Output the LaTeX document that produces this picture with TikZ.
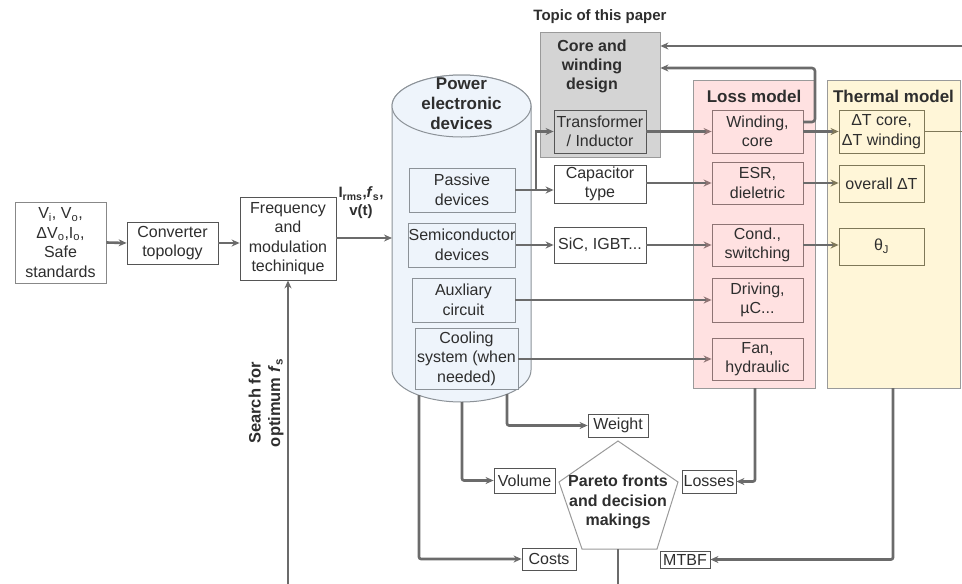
\documentclass[tikz,border=0pt]{standalone}
\usepackage{fontspec}
\setmainfont{Liberation Sans}
\usetikzlibrary{arrows.meta}
\definecolor{ln}{HTML}{6B6B6B}
\definecolor{txt}{HTML}{2E2E2E}
\definecolor{bd}{HTML}{555555}
\definecolor{cylf}{HTML}{EEF4FB}
\definecolor{cyld}{HTML}{8C9298}
\definecolor{grayf}{HTML}{D4D4D4}
\definecolor{grayd}{HTML}{9A9A9A}
\definecolor{lossf}{HTML}{FFE1E1}
\definecolor{lossd}{HTML}{8E7474}
\definecolor{thf}{HTML}{FFF6D8}
\definecolor{thd}{HTML}{7F7858}
\begin{document}
\begin{tikzpicture}[x=1pt,y=-1pt,
  font=\fontsize{16}{19.5}\selectfont, text=txt,
  box/.style={draw=bd, line width=0.8pt, inner sep=0pt, align=center, fill=white},
  cbox/.style={box, draw=cyld, fill=cylf},
  lbox/.style={box, draw=lossd, fill=lossf},
  tbox/.style={box, draw=thd, fill=thf},
  title/.style={font=\bfseries\fontsize{17}{20}\selectfont, align=center, inner sep=0pt},
  arr/.style={draw=ln, line width=2.6pt, -{Stealth[length=8pt,width=7pt]}},
  arrl/.style={draw=ln, line width=2.6pt, -{Stealth[length=8pt,width=7pt,color=lossd]}},
  arrt/.style={draw=ln, line width=2.6pt, -{Stealth[length=8pt,width=7pt,color=thd]}},
  wire/.style={draw=ln, line width=2.6pt}]
\useasboundingbox (0,0) rectangle (962,584);

% ---------- left chain ----------
\node[box, draw=bd!70, minimum width=91pt, minimum height=81pt] (inp) at (60.5,242.5)
  {V\textsubscript{i}, V\textsubscript{o},\\ΔV\textsubscript{o},I\textsubscript{o},\\Safe\\standards};
\node[box, minimum width=91pt, minimum height=42pt] (topo) at (172.5,243) {Converter\\topology};
\node[box, minimum width=96pt, minimum height=83pt] (freq) at (288,238.5)
  {Frequency\\and\\modulation\\techinique};
\node[font=\bfseries\fontsize{15}{18}\selectfont, align=center, inner sep=0pt] (ilab) at (361,203)
  {I\textsubscript{rms},\textit{f}\textsubscript{s},\\v(t)};
\node[font=\bfseries\fontsize{16.5}{19.5}\selectfont, align=center, inner sep=0pt, rotate=90] (search) at (266,403)
  {Search for\\optimum \textit{f}\textsubscript{s}};

% ---------- cylinder ----------
\filldraw[fill=cylf, draw=cyld, line width=1pt]
  (392,106) -- (392,370) .. controls (392,387.7) and (423.1,402) .. (461.5,402)
  .. controls (499.9,402) and (531,387.7) .. (531,370) -- (531,106)
  .. controls (531,88.9) and (499.9,75) .. (461.5,75)
  .. controls (423.1,75) and (392,88.9) .. (392,106) -- cycle;
\filldraw[fill=cylf, draw=cyld, line width=1pt] (461.5,106) ellipse [x radius=69.5pt, y radius=31pt];
\node[title] (ped) at (461.5,104) {Power\\electronic\\devices};
\coordinate (cylL) at (392,238);

\node[cbox, minimum width=106pt, minimum height=44pt] (pass) at (462,190) {Passive\\devices};
\node[cbox, minimum width=106pt, minimum height=44pt] (semi) at (462,245) {Semiconductor\\devices};
\node[cbox, minimum width=103pt, minimum height=44pt] (aux) at (463.5,300) {Auxliary\\circuit};
\node[cbox, minimum width=103pt, minimum height=61pt] (cool) at (466.5,358.5) {Cooling\\system (when\\needed)};

% ---------- topic box ----------
\node[font=\bfseries\fontsize{15}{18}\selectfont, inner sep=0pt] (topic) at (600,17) {Topic of this paper};
\node[box, draw=grayd, fill=grayf, minimum width=120pt, minimum height=125pt] (core) at (600,94.5) {};
\node[font=\bfseries\fontsize{16}{19}\selectfont, align=center, inner sep=0pt] (coret) at (592,66) {Core and\\winding\\design};
\node[box, draw=bd, fill=grayf, minimum width=92pt, minimum height=43pt] (trafo) at (600,131.5) {Transformer\\/ Inductor};
\node[box, minimum width=92pt, minimum height=38pt] (cap) at (600,184) {Capacitor\\type};
\node[box, minimum width=92pt, minimum height=36pt] (sic) at (600,245) {SiC, IGBT...};

% ---------- loss model ----------
\node[box, draw=grayd, fill=lossf, minimum width=122pt, minimum height=308pt] (loss) at (754,234) {};
\node[title] (losst) at (754,96) {Loss model};
\node[lbox, minimum width=91pt, minimum height=43pt] (wind) at (757.5,131.5) {Winding,\\core};
\node[lbox, minimum width=91pt, minimum height=42pt] (esr) at (757.5,183) {ESR,\\dieletric};
\node[lbox, minimum width=91pt, minimum height=42pt] (cond) at (757.5,245) {Cond.,\\switching};
\node[lbox, minimum width=91pt, minimum height=44pt] (driv) at (757.5,300) {Driving,\\µC...};
\node[lbox, minimum width=91pt, minimum height=42pt] (fan) at (757.5,359) {Fan,\\hydraulic};

% ---------- thermal model ----------
\node[box, draw=grayd, fill=thf, minimum width=133pt, minimum height=308pt] (therm) at (893.5,234) {};
\node[title] (thermt) at (893.5,96) {Thermal model};
\node[tbox, minimum width=85pt, minimum height=43pt] (dt) at (881.5,131.5) {ΔT core,\\ΔT winding};
\node[tbox, minimum width=85pt, minimum height=37pt] (ov) at (881.5,183.5) {overall ΔT};
\node[tbox, minimum width=85pt, minimum height=37pt] (thj) at (881.5,246.5) {θ\textsubscript{J}};

% ---------- bottom ----------
\node[box, minimum width=60pt, minimum height=23pt] (weight) at (618,425.5) {Weight};
\node[box, minimum width=61pt, minimum height=25pt] (vol) at (524.5,480.5) {Volume};
\node[box, minimum width=54pt, minimum height=23pt] (losses) at (709,481.5) {Losses};
\node[box, minimum width=54pt, minimum height=22pt] (costs) at (549,559) {Costs};
\node[box, minimum width=50pt, minimum height=17pt] (mtbf) at (685,559.5) {MTBF};
\draw[draw=grayd, line width=1pt, fill=white] (618,441) -- (678,482) -- (657,549) -- (582,549) -- (559,482) -- cycle;
\node[font=\bfseries\fontsize{16}{19.5}\selectfont, align=center, inner sep=0pt] (pareto) at (618,502)
  {Pareto fronts\\and decision\\makings};

% ---------- coordinates ----------
\coordinate (br) at (536,190);
\coordinate (eR1) at (962,131.5);
\coordinate (eR2) at (962,46);
\coordinate (wc1) at (803,122);
\coordinate (wc2) at (815,68);
\coordinate (cb1) at (419,395);
\coordinate (cb2) at (462,402);
\coordinate (cb3) at (507,394);
\coordinate (lb) at (755,388);
\coordinate (tb) at (893,388);
\coordinate (pb) at (618,549);
\coordinate (pe) at (618,584);
\coordinate (sb) at (288,584);

% ---------- connectors ----------
\draw[arr] (inp.east) -- (topo.west);
\draw[arr] (topo.east) -- (topo.east -| freq.west);
\draw[arr] (freq.east |- cylL) -- (cylL);
\draw[arr] (pass.east) -- (pass.east -| cap.west);
\draw[arr] (br) |- (trafo.west);
\draw[arr] (semi.east) -- (sic.west);
\draw[arrl] (aux.east) -- (aux.east -| driv.west);
\draw[arrl] (cool.east |- fan.west) -- (fan.west);
\draw[arrl] (trafo.east) -- (wind.west);
\draw[arrl] (cap.east |- esr.west) -- (esr.west);
\draw[arrl] (sic.east) -- (cond.west);
\draw[arrt] (wind.east) -- (dt.west);
\draw[arrt] (esr.east) -- (esr.east -| ov.west);
\draw[arrt] (cond.east) -- (cond.east -| thj.west);
\draw[draw=thd, line width=1.8pt] (dt.east) -- (eR1);
\draw[arr] (eR2) -- (eR2 -| core.east);
\draw[arr, rounded corners=3pt] (wc1) -| (wc2) -- (wc2 -| core.east);
\draw[arr, rounded corners=2pt] (cb1) |- (costs.west);
\draw[arr, rounded corners=2pt] (cb2) |- (vol.west);
\draw[arr, rounded corners=2pt] (cb3) |- (weight.west);
\draw[arr, rounded corners=2pt] (lb) |- (losses.east);
\draw[arr, rounded corners=2pt] (tb) |- (mtbf.east);
\draw[wire] (pb) -- (pe);
\draw[arr] (sb) -- (freq.south);
\end{tikzpicture}
\end{document}
